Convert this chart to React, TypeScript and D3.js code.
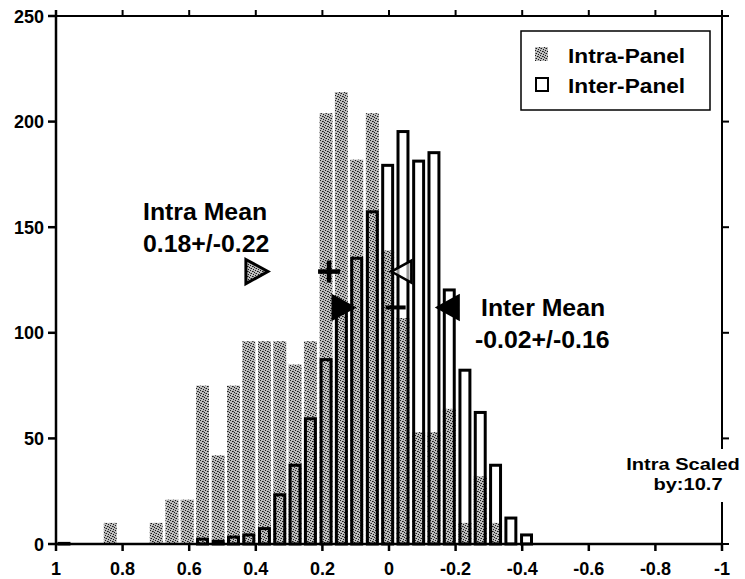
import React from "react";
import * as d3 from "d3";

const binCenters = [0.976, 0.930, 0.884, 0.837, 0.791, 0.745, 0.699, 0.652, 0.606, 0.560, 0.513, 0.467, 0.421, 0.374, 0.328, 0.282, 0.236, 0.189, 0.143, 0.097, 0.050, 0.004, -0.042, -0.089, -0.135, -0.181, -0.228, -0.274, -0.320, -0.366, -0.413];
const intraCounts = [0, 0, 0, 10, 0, 0, 10, 21, 21, 75, 42, 75, 96, 96, 96, 85, 96, 204, 214, 182, 204, 139, 107, 53, 53, 64, 10, 32, 10, 0, 0];
const interCounts = [1, 0, 0, 0, 0, 0, 0, 0, 0, 3, 2, 4, 5, 8, 24, 38, 60, 88, 112, 136, 158, 180, 196, 182, 186, 121, 83, 63, 38, 13, 5];
const binWidth = 0.0463;

const xTicks = [1, 0.8, 0.6, 0.4, 0.2, 0, -0.2, -0.4, -0.6, -0.8, -1];
const xTickLabels = ["1", "0.8", "0.6", "0.4", "0.2", "0", "-0.2", "-0.4", "-0.6", "-0.8", "-1"];
const yTicks = [0, 50, 100, 150, 200, 250];

const intraMean = 0.18;
const intraStd = 0.22;
const interMean = -0.02;
const interStd = 0.16;
const intraMarkerY = 129;
const interMarkerY = 112;

const W = 745;
const H = 579;
const FONT = "'Liberation Sans', Arial, Helvetica, sans-serif";

export default function App() {
  const x = d3.scaleLinear().domain([1, -1]).range([56, 722]);
  const y = d3.scaleLinear().domain([0, 250]).range([544, 16]);
  const bw = Math.abs(x(0) - x(binWidth));
  const grayW = bw * 0.84;
  const outW = bw * 0.84 - 3;

  const tri = (cx: number, cy: number, dir: number, s: number) => {
    const h = s;
    const pts = dir > 0
      ? [[cx - h * 0.45, cy - h * 0.55], [cx + h * 0.55, cy], [cx - h * 0.45, cy + h * 0.55]]
      : [[cx + h * 0.45, cy - h * 0.55], [cx - h * 0.55, cy], [cx + h * 0.45, cy + h * 0.55]];
    return pts.map((p) => p.join(",")).join(" ");
  };

  const stretched = (tx: number, ty: number, txt: string, size: number, anchor = "start", sx = 1.08) => (
    <text
      transform={`translate(${tx},${ty}) scale(${sx},1)`}
      fontFamily={FONT}
      fontWeight="bold"
      fontSize={size}
      textAnchor={anchor}
      fill="#000"
    >
      {txt}
    </text>
  );

  return (
    <svg width={W} height={H} style={{ position: "absolute", left: 0, top: 0, background: "#fff" }}>
      <defs>
        <pattern id="stipple" width="5" height="5" patternUnits="userSpaceOnUse">
          <rect width="5" height="5" fill="#bcbcbc" />
          <rect x="0" y="0" width="1" height="1" fill="#1a1a1a" />
          <rect x="2" y="1" width="1" height="1" fill="#1a1a1a" />
          <rect x="4" y="2" width="1" height="1" fill="#1a1a1a" />
          <rect x="1" y="3" width="1" height="1" fill="#1a1a1a" />
          <rect x="3" y="4" width="1" height="1" fill="#1a1a1a" />
          <rect x="3" y="1" width="1" height="1" fill="#555" />
          <rect x="0" y="3" width="1" height="1" fill="#777" />
        </pattern>
      </defs>
      <rect width={W} height={H} fill="#fff" />

      {/* intra bars */}
      {binCenters.map((c, i) =>
        intraCounts[i] > 0 ? (
          <rect
            key={"a" + i}
            x={x(c) - grayW / 2}
            y={y(intraCounts[i])}
            width={grayW}
            height={y(0) - y(intraCounts[i])}
            fill="url(#stipple)"
          />
        ) : null
      )}
      {/* inter bars */}
      {binCenters.map((c, i) =>
        interCounts[i] > 0 ? (
          <rect
            key={"b" + i}
            x={x(c) - outW / 2}
            y={y(interCounts[i]) + 1.5}
            width={outW}
            height={Math.max(0.5, y(0) - y(interCounts[i]) - 1.5)}
            fill="none"
            stroke="#000"
            strokeWidth={3}
          />
        ) : null
      )}

      {/* intra markers */}
      <polygon points={tri(x(intraMean + intraStd), y(intraMarkerY), 1, 22)} fill="url(#stipple)" stroke="#000" strokeWidth={3} />
      <polygon points={tri(x(intraMean - intraStd), y(intraMarkerY), -1, 20)} fill="#fff" fillOpacity={0.6} stroke="#000" strokeWidth={2.5} />
      <line x1={x(intraMean) - 11} x2={x(intraMean) + 11} y1={y(intraMarkerY)} y2={y(intraMarkerY)} stroke="#000" strokeWidth={4.5} />
      <line x1={x(intraMean)} x2={x(intraMean)} y1={y(intraMarkerY) - 11} y2={y(intraMarkerY) + 11} stroke="#000" strokeWidth={4.5} />

      {/* inter markers */}
      <polygon points={tri(x(interMean + interStd), y(interMarkerY), 1, 22)} fill="#000" stroke="#000" strokeWidth={2} />
      <polygon points={tri(x(interMean - interStd), y(interMarkerY), -1, 22)} fill="#000" stroke="#000" strokeWidth={2} />
      <line x1={x(interMean) - 10} x2={x(interMean) + 10} y1={y(interMarkerY)} y2={y(interMarkerY)} stroke="#000" strokeWidth={4} />

      {/* axes frame */}
      <line x1={56} x2={56} y1={10} y2={545} stroke="#000" strokeWidth={2.5} />
      <line x1={55} x2={723} y1={y(0)} y2={y(0)} stroke="#000" strokeWidth={2.5} />
      <line x1={55} x2={723} y1={y(250)} y2={y(250)} stroke="#000" strokeWidth={2} />
      <line x1={722} x2={722} y1={10} y2={545} stroke="#000" strokeWidth={2} />

      {xTicks.map((t, i) => (
        <g key={"xt" + i}>
          <line x1={x(t)} x2={x(t)} y1={y(0)} y2={y(0) + 7} stroke="#000" strokeWidth={2.5} />
          <line x1={x(t)} x2={x(t)} y1={y(250)} y2={y(250) - 6} stroke="#000" strokeWidth={2} />
          <text x={x(t)} y={575} fontFamily={FONT} fontWeight="bold" fontSize={18} textAnchor="middle">
            {xTickLabels[i]}
          </text>
        </g>
      ))}
      {yTicks.map((t, i) => (
        <g key={"yt" + i}>
          <line x1={48} x2={56} y1={y(t)} y2={y(t)} stroke="#000" strokeWidth={2.5} />
          <line x1={722} x2={729} y1={y(t)} y2={y(t)} stroke="#000" strokeWidth={2} />
          <text x={44} y={y(t) + 6.5} fontFamily={FONT} fontWeight="bold" fontSize={18} textAnchor="end">
            {String(t)}
          </text>
        </g>
      ))}

      {/* annotations */}
      {stretched(143, 220, "Intra Mean", 23)}
      {stretched(143, 252, "0.18+/-0.22", 23)}
      {stretched(481, 316, "Inter Mean", 23)}
      {stretched(475, 348, "-0.02+/-0.16", 23)}

      <rect x={620} y={449} width={124} height={53} fill="#fff" />
      {stretched(683, 470, "Intra Scaled", 17, "middle", 1.18)}
      {stretched(688, 490, "by:10.7", 17, "middle", 1.18)}

      {/* legend */}
      <rect x={521} y={31} width={189} height={79} fill="#fff" stroke="#000" strokeWidth={1.5} />
      <rect x={535} y={47} width={13} height={14} fill="url(#stipple)" />
      {stretched(568, 63, "Intra-Panel", 21)}
      <rect x={536} y={78} width={12} height={13} fill="none" stroke="#000" strokeWidth={2} />
      {stretched(568, 93, "Inter-Panel", 21)}
    </svg>
  );
}
